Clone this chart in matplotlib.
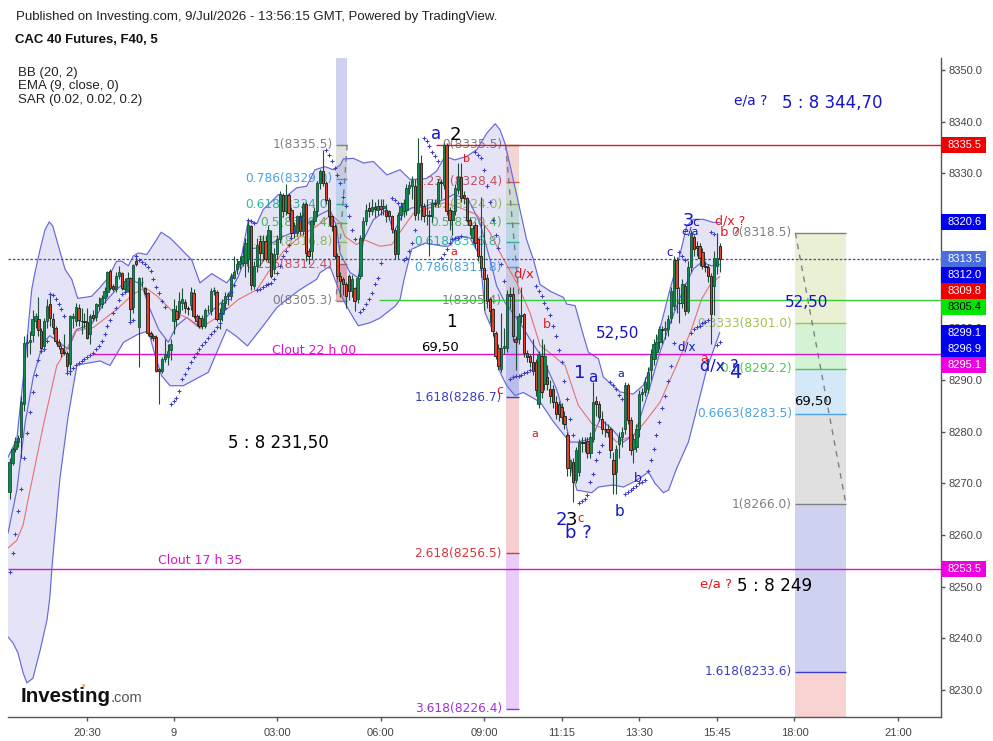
import numpy as np
import matplotlib
matplotlib.use('Agg')
import matplotlib.pyplot as plt
from matplotlib.transforms import blended_transform_factory

plt.rcParams['font.family'] = ['Liberation Sans', 'DejaVu Sans']

# 5 minute bars, first bar is 165 bars before the 09:00 bar
first_bar = -165
opens = [
 8268.3,8274,8276.7,8278,8279,8285.4,8297.1,8297.4,8298.7,8301.5,
 8301.9,8299.5,8296.6,8301.5,8304.8,8301.9,8300,8297.3,8296.3,8295.4,
 8295.2,8293.1,8302.1,8301.5,8304,8301.5,8301.4,8301.3,8298.9,8302.6,
 8302.2,8304.4,8304.8,8305.8,8307.1,8311.1,8308.2,8307.7,8310.1,8310.8,
 8307.6,8307.3,8309.7,8304.2,8313,8300.2,8309,8307.8,8306.8,8299.1,
 8298.6,8298.4,8292.1,8291.8,8294,8294.4,8295.8,8301.4,8303.4,8303,
 8304.9,8305.2,8304,8304.5,8306.9,8302.4,8302,8300.4,8300.5,8303.5,
 8303.4,8307.2,8307,8301.8,8303,8305,8306.3,8306.3,8309.8,8311.4,
 8312.4,8312.7,8312.7,8313.5,8319.9,8308.2,8312,8316.9,8314.6,8316.9,
 8313.5,8314.6,8311.4,8314.3,8317.2,8325.9,8322.7,8325.9,8323,8318.5,
 8318.5,8321.7,8318.8,8324.1,8314.9,8314.9,8320.7,8322.7,8328.1,8330.4,
 8328.1,8324.9,8321.7,8319.8,8314,8310.1,8309.6,8308.5,8310.1,8307.2,
 8307.8,8305.6,8310.1,8317.5,8320.7,8323.3,8322.8,8323.4,8323,8323.6,
 8323.2,8323,8322.7,8321.7,8319,8314.3,8322,8322.7,8323,8327.2,
 8327.5,8327.5,8322.3,8332,8323.6,8322,8322,8321.7,8324.3,8324.3,
 8328.4,8327.8,8335.5,8323,8321,8322.7,8326.8,8329.3,8325.9,8325.2,
 8321,8317.5,8320,8317.2,8314,8311.7,8309.8,8305.6,8303.7,8299.2,
 8296.3,8292.1,8296.3,8296.3,8306.6,8306.6,8297.9,8297.9,8302.4,8302.7,
 8295.3,8294.6,8293.4,8293.4,8285.4,8294.7,8289.2,8290.5,8288.3,8288.3,
 8285.7,8285.4,8284.7,8283,8279.3,8272.9,8274.2,8270.6,8272.2,8278,
 8278,8278.3,8275.8,8278.6,8286,8285.4,8282.5,8280.6,8280.6,8280.6,
 8274.5,8272.2,8277.7,8279,8280.6,8289,8282.2,8276.7,8277,8280.6,
 8287.3,8287.7,8288.3,8291.9,8294.1,8295.4,8297.3,8299.9,8299.7,8299.9,
 8302.1,8304.4,8313.3,8305,8305,8308.2,8303.4,8311.8,8317.6,8316,
 8316,8314.7,8312.1,8311.8,8310.2,8308.2,8312.1,8315.9]
highs = [
 8275,8277,8279,8279.3,8287,8298.5,8299,8299.5,8303.5,8303,
 8306,8300,8302,8305.6,8306.6,8303,8300.5,8298,8296.8,8299,
 8295.7,8302.5,8303,8305,8304.7,8304,8303,8304,8302.8,8303.5,
 8305,8306,8306.5,8308,8311.2,8311.5,8308.5,8311,8312,8311,
 8309.8,8311,8310,8312.5,8314,8310,8310,8308,8307,8299.4,
 8298.9,8298.8,8292.4,8294.4,8298,8297,8298,8305.6,8304.5,8307,
 8307.9,8305.7,8304.3,8308,8307.6,8302.7,8302.5,8302.5,8304,8304.5,
 8307.8,8308,8307.4,8304,8305.6,8307,8307,8310.8,8314,8313.5,
 8314,8316,8317.5,8321,8320,8313,8317.5,8318,8318,8318,
 8320,8319,8315.5,8318,8326.5,8326.2,8328,8326.2,8323.5,8320.5,
 8322,8322.5,8324.5,8324.5,8315.5,8321,8323.5,8328.5,8330.8,8334.6,
 8328.6,8325.2,8322,8320.2,8314.5,8311,8310,8309,8310.5,8310.3,
 8308,8310.5,8318,8321.5,8324,8324.5,8325,8324.5,8325,8325,
 8325,8324,8323,8322,8319.5,8322.5,8324.5,8325,8328,8328.5,
 8329.5,8329,8336.8,8333.5,8324.2,8325,8323,8325,8325,8329,
 8329,8335.8,8335.8,8323.5,8323,8328,8332,8332,8326.5,8325.5,
 8321.5,8320,8320.5,8317.5,8325.5,8320,8310.5,8306,8304,8299.5,
 8297,8303,8300,8307.5,8308,8308,8298.5,8303,8308,8303,
 8295.8,8295,8298,8294,8295.7,8298,8297,8293,8290,8289,
 8287,8286,8285.5,8284,8280,8274.5,8275,8277,8278.5,8279,
 8279,8279,8280,8289.6,8287,8286,8284,8282,8281.5,8281,
 8276,8277.5,8280,8281,8289.6,8289.5,8282.8,8279.5,8281.5,8288,
 8288.5,8290.5,8292.5,8296,8298,8299,8300.5,8300.5,8301.5,8302.5,
 8308,8314,8313.8,8308,8309.5,8308.8,8313,8319,8318,8317,
 8316.5,8315.5,8313,8312.5,8310.8,8315,8318.5,8316.5]
lows = [
 8267,8273.5,8276,8277,8275,8284,8294.5,8295,8297.3,8300,
 8298.5,8295.3,8295.7,8300,8300.5,8299,8297,8296,8294.5,8294.8,
 8291.5,8291,8300,8300.5,8300.5,8299,8300,8297.9,8297,8301.5,
 8301.5,8303.5,8304,8305,8306,8307.5,8307.3,8307,8309.5,8307.5,
 8307,8307,8301.5,8303,8312,8292.6,8308.2,8306.5,8298.5,8298,
 8297.6,8291.5,8285.4,8291.3,8293.5,8293,8293.8,8298.9,8300.5,8302,
 8303.5,8303,8302.5,8303.5,8302,8300.5,8300,8299.8,8300,8303,
 8302.5,8306.5,8301.4,8299.8,8301.5,8304,8304.5,8305.5,8309.5,8310.5,
 8311.5,8312,8310,8311,8307.5,8307.7,8311,8312,8313,8313,
 8312.8,8309.7,8310.5,8313.5,8316.5,8321.5,8322,8321,8317.5,8317.5,
 8317.8,8318,8318,8313,8312.5,8313.5,8320,8321.5,8327,8327.5,
 8324,8320,8318.8,8313.5,8309.5,8306,8306.5,8304,8305.5,8306,
 8303.4,8305,8309.5,8317,8320,8321.5,8322,8321.5,8322,8322,
 8322,8320.5,8321,8318.5,8313.5,8313.5,8321,8321.5,8322,8326,
 8325,8321,8321,8321,8320.5,8320,8314,8320.5,8323.5,8323.5,
 8325,8327,8322,8319,8318,8322,8326,8324.5,8324,8320.5,
 8318,8316.5,8315.5,8313,8310,8303.5,8304,8301,8298.5,8294,
 8292,8291.5,8295,8295.5,8304,8297.5,8292,8297,8301,8294.5,
 8293.5,8292.5,8291,8287,8284.5,8286.5,8288,8288,8285.5,8284.5,
 8282.5,8282,8281.5,8280.5,8271.5,8271.5,8266.4,8270,8271.5,8276,
 8276,8275,8275,8278,8283,8282,8279.5,8279,8279,8275,
 8268,8268,8275,8277,8279.5,8281.5,8275.5,8274,8276,8279,
 8286,8287,8287.5,8290,8293,8294,8296,8297,8298,8298.5,
 8301,8303.5,8303,8301,8304,8302.5,8303,8311,8314,8314,
 8312,8311.5,8311,8309,8297,8302.5,8310.5,8311]
closes = [
 8274.1,8276.7,8278.3,8278.8,8285.7,8297.1,8297.4,8297.8,8301.8,8302.3,
 8299.7,8296.3,8301.5,8304.4,8302.1,8300.2,8297.6,8296.5,8295.2,8295.3,
 8292.8,8302.3,8302.4,8304.2,8301.6,8301.4,8301.3,8298.2,8302.4,8302.1,
 8304.8,8304.8,8305.8,8307.2,8311,8307.9,8307.7,8310.1,8311,8307.8,
 8309.2,8309.8,8303.7,8312.2,8312.4,8309.8,8309,8306.9,8299.2,8298.6,
 8298.1,8291.8,8291.7,8294,8295,8295.7,8297,8303.7,8301.8,8305.3,
 8305.6,8304,8303.7,8307,8302.4,8301.4,8300.4,8302.1,8303.5,8303.6,
 8307.2,8307.5,8301.8,8303,8305,8306.3,8306.6,8310.1,8311,8312.4,
 8313,8314,8316.6,8320.1,8308.3,8312,8316.2,8314.6,8316.9,8313.5,
 8319,8310.1,8314.3,8317.2,8326,8322.7,8325.9,8322.3,8318.5,8319.8,
 8321.7,8318.8,8324.1,8314.6,8314,8320.7,8322.7,8328.1,8330.4,8328.1,
 8324.9,8321.7,8319.8,8314,8310.1,8309.1,8308.5,8306.3,8307.2,8309.5,
 8305.3,8309.8,8317.5,8320.7,8323,8322.7,8323.5,8323.1,8323.6,8323.1,
 8323.6,8321.7,8321.7,8319.2,8314.3,8322,8323.6,8324.3,8327.2,8327.8,
 8328.8,8322,8332,8323.8,8321.7,8322,8321.7,8324.3,8324.1,8328.4,
 8328.1,8335.5,8322.7,8321,8322.7,8327.2,8329.3,8325.2,8325.2,8321,
 8320,8319.4,8316.6,8314,8311.7,8309.5,8305.3,8303.4,8299.5,8294.7,
 8292.8,8296.3,8296.6,8306.6,8306.3,8298.5,8297.3,8302.4,8302.6,8295.3,
 8294.4,8293.4,8291.8,8288,8295,8287.6,8294.7,8289.2,8287,8285.7,
 8283.4,8283.4,8282.8,8281.5,8272.9,8274.5,8270.3,8276.4,8278,8277.8,
 8277.9,8275.8,8279,8285.7,8285.4,8282.9,8280.6,8280.5,8280,8276.4,
 8271.9,8276.7,8279,8280,8289,8282.2,8276.4,8278.6,8280.6,8287.3,
 8287.7,8289.6,8291.5,8295,8297,8297.4,8299.9,8299.7,8300,8301.8,
 8307.3,8313.3,8307.9,8304.9,8308.6,8303.4,8311.8,8318.5,8315.3,8315.5,
 8313.7,8312.1,8311.8,8310.2,8302.8,8313.7,8313.7,8313.5]

# bollinger bands and ema, read as (bar number, price)
bb_upper_bar = [-0.55,2.5,5.4,7.7,8.8,10.6,12.3,13.8,15,17,19.3,21.6,23.7,28.5,31.4,34.3,37.2,39,41.3,43,44.8,47.7,50,52.7,55.8,58.7,
 60.4,63.3,66.2,70.3,75.5,80,83,86,88.2,93.5,96.4,99.8,103.3,106.2,109.7,112.6,115,116.1,119.6,123.1,126.5,131.2,135.8,139.3,145,148.5,
 151.4,154.9,159,162.5,166,168.9,170.6,172.3,174.7,177.5,179.8,182.2,184.5,188,192.6,193.8,196.7,199.6,201.3,204.8,206.5,212.3,216.9,
 220.4,222.7,225.6,229.7,233.2,235.5,237.8,241.3,244.8,247]
bb_upper = [8275.1,8278.6,8294,8307.6,8310.8,8315.3,8319.1,8320.6,8319.8,8315.9,8311.4,8309.5,8305.8,8306.2,8307.9,8309.8,8313,8313,8312.1,8314,8314.6,8314.3,8316.2,8318.6,8317.5,8315.9,
 8314.9,8313.3,8308.8,8310.6,8308.8,8312,8320.9,8320.3,8323,8325.9,8325.6,8327.2,8327.5,8330.7,8331.3,8330.7,8331.6,8332.8,8332.9,8332,8332.3,8329.7,8330.7,8328.8,8329,8330.4,
 8333.3,8332.6,8333.3,8334.6,8337.8,8339.6,8338.4,8335.8,8330,8323,8317.2,8313.3,8308.5,8307.2,8306,8304.7,8304.4,8298.6,8295.4,8294.1,8290.6,8287.7,8287.3,
 8289,8292.2,8298.6,8307.6,8314.4,8319.8,8321.1,8321.1,8320.5,8320.5]
bb_lower_bar = [-0.55,1.2,2.9,4.7,6,8.1,10.6,13,14,14.7,16.8,17.5,20.3,23.4,31.5,34.9,39.6,44.8,48.3,50.6,52.9,55.8,60.4,69.1,72,75.5,79,82.7,88.2,92.9,96.4,101,106.8,
 108,111.4,114.9,117.2,119.6,121.3,125.4,128.8,134.1,135.8,137.2,139.8,144.5,150.9,152.6,156,160.1,163.6,165.4,168.3,170.6,172.9,175.8,178.7,
 184.6,189.2,193.8,195.6,197.3,202.5,204.8,210,213.5,218.1,222.2,224.5,227.4,229.2,232,236.1,238.5,242.5,247]
bb_lower = [8240.3,8239.1,8237.2,8233.3,8231.4,8232.3,8237.7,8243.6,8248,8253.6,8266.8,8271,8282.8,8292.9,8293.7,8292.8,8297.3,8298.9,8299.5,8294.7,8290.8,8288.9,8288.9,8291.5,8295.3,8299.8,8298.4,8296.6,8300.5,8304,8305.6,8307.5,8309.5,
 8310.8,8312,8306.9,8304.3,8302,8300.5,8301.1,8302,8304.3,8305.6,8309.5,8315.3,8316.5,8315.9,8315.9,8317.8,8317.5,8314,8303,8299.2,8291.5,8288.9,8287,8287.6,
 8285.7,8281.9,8278.7,8272.2,8268.7,8268.2,8269.3,8269.7,8269.3,8270.6,8272.2,8270,8268.2,8268.7,8272.9,8278,8283.2,8292.2,8299.2]
bb_basis_bar = [-0.55,2.5,5.4,8.3,11.7,14,16.4,20.4,23.3,28.5,32.6,37.2,41.9,45.9,48.3,51.8,55.2,58.1,61.6,65.7,70.9,75.5,79.6,83,89.4,95.2,101,106.8,111.4,113.7,
 114.9,118.4,121.3,123.1,126.5,131.2,133.5,137,139.8,144.5,150.9,154.4,159.6,163.6,167.1,169.4,172.3,177.5,181,185.6,190.2,192.6,194.9,197.8,202.5,205.4,209.4,213.5,217.5,222.2,
 226.2,230.3,234.4,237.8,240.7,244.2,247]
bb_basis = [8260.4,8268.7,8281.8,8290.8,8297.3,8298.6,8297.6,8296,8299.8,8300.8,8304.7,8307.6,8309.5,8308.5,8304.4,8299.8,8297.3,8300.5,8302.1,8300.5,8303.7,8305.9,8310.1,8315.3,8315.9,8317.8,8319.1,8321.7,8323,8319.8,
 8314.6,8310.8,8309.8,8317.2,8321,8323,8318.5,8322.3,8323.3,8323.6,8324.9,8325.9,8324.9,8320.4,8313.3,8308.2,8305,8301.1,8297.9,8294,8288.3,8283.8,8278,8278,8278.7,8282.5,8280.6,8278,8279.6,8287.7,
 8295.4,8301.8,8307.6,8311.5,8312.8,8312.1,8312.4]
ema_bar = [-0.55,2.5,4.7,7.1,11.7,16.4,19.9,22.8,29.2,37.3,43,47.1,51.2,57,61.6,66.2,72,79.6,86,90.6,95.2,101,106.8,112,115,116.6,120.7,123.1,128.8,132.9,136.4,140.5,146.2,150.9,155.5,162.5,167.1,171.2,176.4,181,
 184.5,189.2,193.2,197.8,202.5,206.5,211.2,217,221,226.2,230.9,234.4,237.2,240.7,244.2,247]
ema = [8257.5,8259,8262,8268.7,8281.2,8292.8,8296,8299.5,8300.2,8303.7,8306.6,8307.9,8306.3,8303.1,8302.1,8300,8302.1,8305.6,8307.5,8311.4,8314.9,8317.8,8319.8,8322,8320.4,8317.8,8316.2,8317.2,8315.9,8316.2,8319.1,8322.3,8323.3,8324.3,8323.6,8322,8318.5,8314,8308.8,8303,
 8296.7,8294.7,8292.8,8285.1,8281.6,8280.6,8278,8279.3,8281.9,8285.7,8291.5,8296,8299.9,8305.7,8308.9,8310]

# parabolic sar, one run per direction
sar_starts = [0,14,20,44,56,83,86,110,122,133,137,144,150,162,174,183,198,209,214,233,237,244,246]
sar_runs = [
 [8252.9,8256.6,8260.3,8264.7,8268.9,8274.9,8279.7,8283.8,8287.6,8291,8293.9,8295.7,8296,8297.6],
 [8306.6,8306.4,8305.6,8304.7,8303.8,8302.4],
 [8291.3,8291.8,8292.3,8292.9,8293.3,8293.7,8294.1,8294.4,8294.9,8295.3,8296,8296.5,8297.6,8298.9,8300.4,8301.6,8302.9,8304,8305.5,8306.6,8307.1,8308.7,8301.3,8301.6],
 [8314,8313.2,8312.8,8312.5,8311.9,8311.1,8309.6,8308.1,8306.8,8305.3,8304.2],
 [8285.4,8286,8286.6,8287.9,8290.2,8291.1,8292.4,8293.4,8294.4,8295.3,8296,8296.7,8297.4,8298.2,8298.9,8299.5,8300.2,8301.1,8302.7,8304,8305.6,8307,8308.3],
 [8320.9,8320.7,8320.3],
 [8307.5,8307.7,8308,8308.3,8308.5,8308.8,8309.5,8310.8,8312,8314,8314.9,8316.2,8317.5,8318.8,8320,8321.2,8322],
 [8334.6,8333.6,8332.3,8331,8329.6,8328.1,8325.5,8323.6,8321.7,8319.1,8317.2],
 [8303.2,8303.7,8304.7,8305.7,8306.8,8308.5,8309.8,8312.7],
 [8325.2,8324.9,8324.3,8323.6],
 [8313.3,8313.7,8314.9,8316.5,8319.1],
 [8336.8,8336.2,8335.2,8334.2,8333.3,8332.3],
 [8313.7,8314.3,8315.3,8316.5,8317.2,8317.5,8317.5,8317.8],
 [8334.2,8333.6,8332.9,8330.7,8327.6,8324.5,8321,8318,8315.5,8312.5,8309.2],
 [8290.3,8290.5,8290.7,8290.8,8291,8291.3,8291.6,8292],
 [8308.2,8307.3,8306.3,8305,8304,8302.5,8300.5,8298.6,8295.8,8293.5,8289.9,8286.4,8282.5,8279.3],
 [8266.3,8266.6,8267,8267.7,8270.3,8271.9,8274.5,8276.1,8277.4],
 [8289.7,8289,8288.3,8287.2,8286.4],
 [8267.9,8268.3,8268.7,8269.2,8269.5,8270,8270.3,8270.6,8272.4,8274.5,8276.7,8279.3,8281.9,8284.6,8286.9,8289.8,8292.8,8297.2],
 [8314.7,8314,8313.3],
 [8299.2,8299.9,8300.2,8300.5,8301,8301.3,8301.6],
 [8318.7,8318.2],
 [8296.7,8297.3],
]

# fib tools
fib1_bars = [-51.5, -47.6]
fib1_prices = [8335.5, 8329.0, 8324.0, 8320.4, 8316.8, 8312.4, 8305.3]
fib1_labels = ['1(8335.5)', '0.786(8329.0)', '0.618(8324.0)', '0.5(8320.4)', '0.382(8316.8)', '0.236(8312.4)', '0(8305.3)']
fib1_colors = ['#808080', '#4aa3df', '#2dbf96', '#4cc94c', '#a3c24a', '#d9534f', '#808080']
fib2_bars = [7.5, 12.3]
fib2_prices = [8335.5, 8328.4, 8324.0, 8320.4, 8316.8, 8311.8, 8305.4, 8286.7, 8256.5, 8226.4]
fib2_labels = ['0(8335.5)', '0.236(8328.4)', '0.382(8324.0)', '0.5(8320.4)', '0.618(8316.8)', '0.786(8311.8)', '1(8305.4)', '1.618(8286.7)', '2.618(8256.5)', '3.618(8226.4)']
fib2_colors = ['#808080', '#d9534f', '#a3c24a', '#4cc94c', '#2dbf96', '#4aa3df', '#808080', '#3a3fc4', '#d9343a', '#9b30e0']
fib3_bars = [108.3, 125.9]
fib3_prices = [8318.5, 8301.0, 8292.2, 8283.5, 8266.0, 8233.6]
fib3_labels = ['0(8318.5)', '0.3333(8301.0)', '0.5(8292.2)', '0.6663(8283.5)', '1(8266.0)', '1.618(8233.6)']
fib3_colors = ['#808080', '#a3c24a', '#4cc94c', '#4aa3df', '#808080', '#3a3fc4']

# horizontal lines: price, first bar, colour
line_prices = [8335.5, 8305.4, 8295.1, 8253.5]
line_starts = [-16.7, -36.5, -136.5, -165.6]
line_colors = ['#e01b1b', '#38cc38', '#e010d0', '#e010d0']
last_price = 8313.5

tag_texts = ['8335.5', '8320.6', '8313.5', '8312.0', '8309.8', '8305.4', '8299.1', '8296.9', '8295.1', '8253.5']
tag_pos = [8335.5, 8320.6, 8313.5, 8310.3, 8307.2, 8304.1, 8299.1, 8296.0, 8292.9, 8253.5]
tag_colors = ['#f00000', '#0000ee', '#4a6ede', '#0000ee', '#f00000', '#00e600', '#0000ee', '#0000ee', '#f000e0', '#f000e0']
tag_text_colors = ['white', 'white', 'white', 'white', 'white', 'black', 'white', 'white', 'white', 'white']

x_ticks = [-138, -108, -72, -36, 0, 27, 54, 81, 108, 144]
x_labels = ['20:30', '9', '03:00', '06:00', '09:00', '11:15', '13:30', '15:45', '18:00', '21:00']
y_ticks = list(range(8230, 8351, 10))

# free text on the chart: x px, y px, text, colour, size
BLUE = '#1414c8'
RED = '#e8141e'
notes = [
 (436,134,'a',BLUE,12),(455,135,'2','black',13),(467,159,'b',RED,8),(454,252,'a',RED,8),
 (524,274,'d/x',RED,9.5),(547,325,'b',RED,9),(500,390,'c',RED,9),(451,322,'1','black',12),
 (440,348,'69,50','black',9.5),(535,434,'a',RED,8),(580,373,'1',BLUE,13),(593,377,'a',BLUE,11),
 (618,334,'52,50',BLUE,11),(621,374,'a',BLUE,8),(638,478,'b',BLUE,9),(619,511,'b',BLUE,11),
 (561,520,'2',BLUE,13),(571,520,'3','black',13),(581,518,'c',RED,8.5),(578,533,'b ?',BLUE,13),
 (688,221,'3',BLUE,13),(696,222,'c',BLUE,9),(690,232,'e/a',BLUE,8),(670,252,'c',BLUE,8.5),
 (730,221,'d/x ?',RED,9),(730,232,'b ?',RED,9.5),(687,347,'d/x',BLUE,8.5),(704,358,'a',RED,9),
 (719,367,'d/x ?',BLUE,11.5),(735,372,'4',BLUE,14),(807,302,'52,50',BLUE,11),(813,401,'69,50','black',9.5),
 (751,101,'e/a ?',BLUE,10),(832,103,'5 : 8 344,70',BLUE,12),(278,443,'5 : 8 231,50','black',12),
 (314,350,'Clout 22 h 00','#e010d0',9),(200,561,'Clout 17 h 35','#e010d0',9),
 (716,584,'e/a ?',RED,9.5),(775,586,'5 : 8 249','black',12.2),
]

W, H = 993, 741
fig = plt.figure(figsize=(W/100, H/100), dpi=100)
ax = fig.add_axes([8/W, 1-717/H, (941-8)/W, (717-58)/H])
ax.set_xlim(-165.57, 158.96)
ax.set_ylim(8224.8, 8352.32)


def draw_fib(bars, prices, labels, colors, fill_colors, label_size=8.8):
    # bands between levels take the colour of the lower one on screen
    for k in range(len(prices)-1):
        ax.fill_between(bars, prices[k], prices[k+1], color=fill_colors[k], alpha=0.24, lw=0, zorder=1)
    ax.hlines(prices, bars[0], bars[1], colors=colors, lw=1, zorder=1.5)
    for p, t, c in zip(prices, labels, colors):
        ax.annotate(t, (bars[0], p), xytext=(-2.5, 0), textcoords='offset points', ha='right', va='center',
                    color=c, fontsize=label_size, family='DejaVu Sans', zorder=1.6, clip_on=False)


top, bottom = ax.get_ylim()[1], ax.get_ylim()[0]
draw_fib(fib1_bars, [top]+fib1_prices, ['']+fib1_labels, ['none']+fib1_colors, ['#3a3fc4']+fib1_colors[:6]+[])
ax.fill_between(fib1_bars, fib1_prices[5], fib1_prices[6], color='#d9534f', alpha=0.24, lw=0, zorder=1)
draw_fib(fib2_bars, fib2_prices, fib2_labels, fib2_colors, fib2_colors[1:])
draw_fib(fib3_bars, fib3_prices, fib3_labels, fib3_colors, fib3_colors[1:])
ax.fill_between(fib3_bars, fib3_prices[-1], bottom, color='#e03030', alpha=0.22, lw=0, zorder=1)
# dashed trend line of each tool
ax.plot(fib1_bars[::-1], [fib1_prices[0], fib1_prices[-1]], color='#808080', lw=1, ls=(0, (4, 4)), zorder=1.7)
ax.plot(fib2_bars, [fib2_prices[0], fib2_prices[6]], color='#808080', lw=1, ls=(0, (4, 4)), zorder=1.7)
ax.plot(fib3_bars, [fib3_prices[0], fib3_prices[4]], color='#808080', lw=1, ls=(0, (4, 4)), zorder=1.7)

# bands
ax.fill(np.r_[bb_upper_bar, bb_lower_bar[::-1]] + first_bar, np.r_[bb_upper, bb_lower[::-1]], color='#4a50c8', alpha=0.15, lw=0, zorder=2)
ax.plot(np.array(bb_upper_bar) + first_bar, bb_upper, color='#6468dc', lw=0.85, zorder=2.2)
ax.plot(np.array(bb_lower_bar) + first_bar, bb_lower, color='#6468dc', lw=0.85, zorder=2.2)
ax.plot(np.array(bb_basis_bar) + first_bar, bb_basis, color='#6468dc', lw=0.85, zorder=2.2)
ax.plot(np.array(ema_bar) + first_bar, ema, color='#e87070', lw=0.8, zorder=2.3)

# horizontal levels
for p, s, c in zip(line_prices, line_starts, line_colors):
    ax.hlines(p, s, ax.get_xlim()[1], colors=c, lw=1, zorder=2.5)
ax.hlines(last_price, -165.57, ax.get_xlim()[1], colors='#3a4aa8', lw=0.9, linestyles=(0, (2, 1.5)), zorder=2.5)

# candles
o = np.array(opens)
h = np.array(highs)
l = np.array(lows)
c = np.array(closes)
bars = first_bar + np.arange(len(c))
up = c >= o
ax.vlines(bars, l, h, colors='#1f4f38', lw=0.8, zorder=3)
ax.bar(bars[up], (c-o)[up], bottom=o[up], width=0.8, color='#0f8a4b', edgecolor='#14503a', lw=0.6, zorder=3.1)
ax.bar(bars[~up], (o-c)[~up], bottom=c[~up], width=0.8, color='#e0402c', edgecolor='#2a2a20', lw=0.7, zorder=3.1)

# sar
for s, run in zip(sar_starts, sar_runs):
    ax.plot(first_bar + s + np.arange(len(run)), run, ls='none', marker='+', ms=2.5, mew=0.75, color='#3c3cc8', zorder=3.3)

# axes
for side in ['left', 'top']:
    ax.spines[side].set_visible(False)
for side in ['right', 'bottom']:
    ax.spines[side].set_color('#555555')
    ax.spines[side].set_linewidth(1)
ax.yaxis.tick_right()
ax.set_yticks(y_ticks)
ax.set_yticklabels([f'{t:.1f}' for t in y_ticks])
ax.set_xticks(x_ticks)
ax.set_xticklabels(x_labels)
ax.tick_params(axis='y', length=3, width=1, color='#555555', labelcolor='#444444', labelsize=8, pad=2.5)
ax.tick_params(axis='x', length=3, width=1, color='#555555', labelcolor='#444444', labelsize=8, pad=5)

# price tags on the right axis
trans = blended_transform_factory(ax.transAxes, ax.transData)
tag_h = 16/5.167
for t, p, col, tc in zip(tag_texts, tag_pos, tag_colors, tag_text_colors):
    ax.add_patch(plt.Rectangle((1, p-tag_h/2), 45/933, tag_h, transform=trans, facecolor=col, edgecolor='none', clip_on=False, zorder=5))
    ax.text(1+7/933, p, t, transform=trans, color=tc, fontsize=8, va='center', ha='left', clip_on=False, zorder=6)

for px, py, t, col, size in notes:
    fig.text(px/W, 1-py/H, t, color=col, fontsize=size, ha='center', va='center', family='DejaVu Sans', zorder=10)

# header and legend
fig.text(16/W, 1-17/H, 'Published on Investing.com, 9/Jul/2026 - 13:56:15 GMT, Powered by TradingView.', fontsize=9.55, color='#222222', va='center')
fig.text(15/W, 1-40/H, 'CAC 40 Futures, F40, 5', fontsize=9.45, weight='bold', color='#111111', va='center')
for py, t in [(73, 'BB (20, 2)'), (86, 'EMA (9, close, 0)'), (100, 'SAR (0.02, 0.02, 0.2)')]:
    fig.text(18/W, 1-py/H, t, fontsize=9.5, color='#222222', va='center')

# logo
fig.text(21/W, 1-696/H, 'Investing', fontsize=14.8, weight='bold', color='#111111', va='center', zorder=10)
fig.text(83/W, 1-686/H, '\u2022', fontsize=7, color='#f0a030', ha='center', va='center', zorder=11)
fig.text(111/W, 1-698/H, '.com', fontsize=10.5, color='#555555', va='center', zorder=10)

fig.savefig('out.png', dpi=100)
